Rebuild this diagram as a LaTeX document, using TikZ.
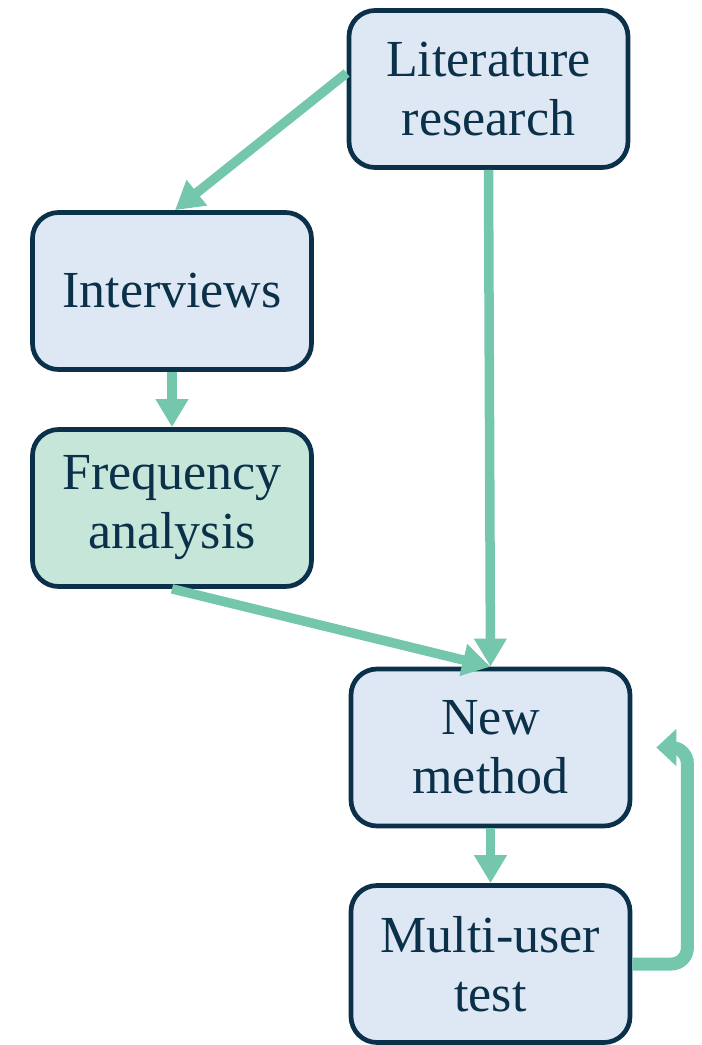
\documentclass[tikz,border=0pt]{standalone}
\usepackage{fontspec}
\setmainfont{Liberation Serif}
\usetikzlibrary{arrows.meta}
\definecolor{boxfill}{HTML}{DEE8F4}
\definecolor{greenfill}{HTML}{C6E6DA}
\definecolor{navy}{HTML}{0B3049}
\definecolor{arrowc}{HTML}{74C7AD}
\tikzset{
  stepbox/.style={draw=navy, fill=boxfill, line width=4.7pt, rounded corners=26pt,
    minimum width=279pt, minimum height=157pt, align=center, text=navy,
    font=\fontsize{52}{59}\selectfont, inner sep=0pt},
  flow/.style={draw=arrowc, line width=9.5pt, -{Triangle[length=28pt,width=31pt]}},
  loopflow/.style={draw=arrowc, line width=13pt, rounded corners=16pt,
    -{Triangle[length=20pt,width=36pt]}}
}
\begin{document}
\begin{tikzpicture}[x=1pt,y=-1pt]
\useasboundingbox (0,0) rectangle (702,1045);
\node[stepbox] (lit) at (488.5,89) {Literature\\research};
\node[stepbox] (int) at (172,291) {Interviews};
\node[stepbox, fill=greenfill] (freq) at (172,508) {Frequency\\analysis};
\node[stepbox] (new) at (490.5,747.5) {New\\method};
\node[stepbox] (multi) at (490.5,964) {Multi-user\\test};
\draw[flow] ([yshift=16pt]lit.west) -- ([xshift=3pt]int.north);
\draw[flow] (lit.south) -- (new.north);
\draw[flow] (int.south) -- (freq.north);
\draw[flow] (freq.south) -- (new.north);
\draw[flow] (new.south) -- (multi.north);
\draw[loopflow] (multi.east) -- ++(55,0) |- ([xshift=24pt]new.east);
\end{tikzpicture}
\end{document}
